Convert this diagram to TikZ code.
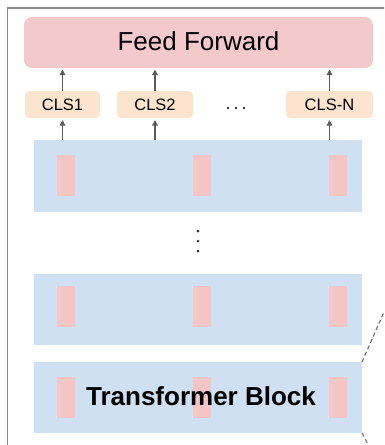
\documentclass[tikz,border=0pt]{standalone}
\usepackage{fontspec}
\setmainfont{Liberation Sans}
\usetikzlibrary{arrows.meta}

\definecolor{ffpink}{HTML}{F3C9CC}
\definecolor{clspeach}{HTML}{FCE4CF}
\definecolor{blockblue}{HTML}{CEE0F1}
\definecolor{tokpink}{HTML}{F5C5C6}
\definecolor{arrowgrey}{HTML}{5A5A5A}
\definecolor{framegrey}{HTML}{8C8C8C}
\definecolor{dashgrey}{HTML}{6A6A6A}

\begin{document}
\begin{tikzpicture}[x=1pt,y=-1pt,
  box/.style={anchor=north west, inner sep=0pt, outer sep=0pt, draw=none},
  ffbox/.style={box, fill=ffpink, rounded corners=8pt, minimum width=349pt, minimum height=51pt},
  clsbox/.style={box, fill=clspeach, rounded corners=4pt, minimum height=27pt},
  clstext/.style={font=\fontsize{16.5}{19}\selectfont},
  block/.style={box, fill=blockblue, minimum width=328pt},
  token/.style={box, fill=tokpink, minimum width=18pt, minimum height=41pt},
  arr/.style={draw=arrowgrey, line width=1.2pt, -{Triangle[length=5.5pt,width=5.5pt]}},
  dot/.style={circle, fill=black!80, inner sep=0pt, minimum size=3pt},
  zoomline/.style={draw=dashgrey, line width=1.1pt, dash pattern=on 4pt off 3pt}
]
\useasboundingbox (0,0) rectangle (384,445);
\clip (0,0) rectangle (384,445);

% outer frame (left and top edges)
\draw[framegrey, line width=1.5pt] (7.5,446) -- (7.5,8) -- (385,8);

% feed forward head
\node[ffbox] (ff) at (24,17) {};
\node[font=\fontsize{26}{31}\selectfont] (fftext) at ([yshift=1pt]ff.center) {Feed Forward};

% CLS tokens
\node[clsbox, minimum width=75pt] (cls1) at (25,91) {};
\node[clstext] (cls1t) at (cls1.center) {CLS1};
\node[clsbox, minimum width=76pt] (cls2) at (117,91) {};
\node[clstext] (cls2t) at (cls2.center) {CLS2};
\node[clsbox, minimum width=87pt] (clsn) at (286,91) {};
\node[clstext] (clsnt) at (clsn.center) {CLS-N};

% horizontal ellipsis between CLS2 and CLS-N
\node[dot, minimum size=2.8pt] (h1) at (228,108) {};
\node[dot, minimum size=2.8pt] (h2) at (236,108) {};
\node[dot, minimum size=2.8pt] (h3) at (244,108) {};

% transformer blocks
\node[block, minimum height=72pt] (b1) at (34,140) {};
\node[block, minimum height=71pt] (b2) at (34,274) {};
\node[block, minimum height=71pt] (b3) at (34,362) {};

% token columns inside each block
\foreach \bx in {57,193,329} {
  \node[token] at (\bx,155) {};
  \node[token] at (\bx,286) {};
  \node[token] at (\bx,377) {};
}

% vertical ellipsis between blocks
\node[dot] (v1) at (198,231) {};
\node[dot] (v2) at (198,241) {};
\node[dot] (v3) at (198,251) {};

% label of the last block
\node[font=\bfseries\fontsize{26}{31}\selectfont] (tb) at (201,396) {Transformer Block};

% arrows: blocks -> CLS -> feed forward
\foreach \c in {cls1,cls2,clsn} {
  \draw[arr, shorten >=1.5pt] (\c.north) -- (\c.north |- ff.south);
  \draw[arr, shorten >=2pt] (\c.south |- b1.north) -- (\c.south);
}

% dashed zoom lines leaving the last block
\coordinate (z1) at (384,312);
\coordinate (z2) at (369,446);
\draw[zoomline] (b3.north east) -- (z1);
\draw[zoomline] (b3.south east) -- (z2);
\end{tikzpicture}
\end{document}
